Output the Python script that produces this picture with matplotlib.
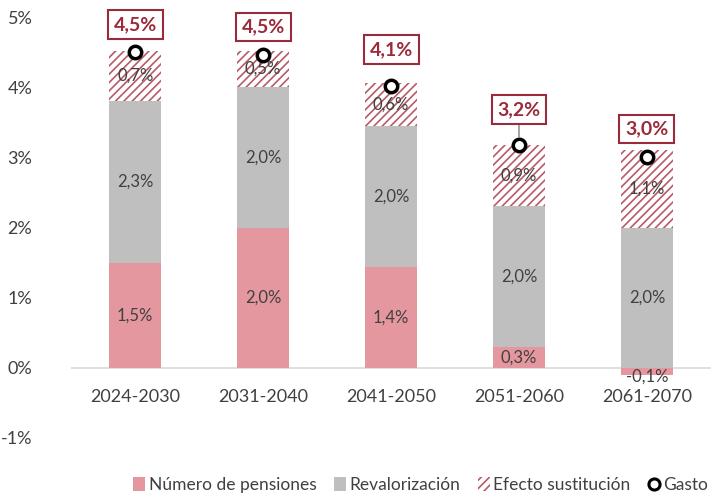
import numpy as np
import matplotlib.pyplot as plt
from matplotlib.patches import Patch
from matplotlib.lines import Line2D

plt.rcParams['font.family'] = ['Lato', 'DejaVu Sans']
plt.rcParams['hatch.linewidth'] = 1.2

periods = ['2024-2030', '2031-2040', '2041-2050', '2051-2060', '2061-2070']
num_pensiones = [1.5, 2.0, 1.44, 0.3, -0.1]
revalorizacion = [2.3, 2.0, 2.0, 2.0, 2.0]
efecto_sust = [0.72, 0.52, 0.62, 0.88, 1.1]
gasto = [4.5, 4.46, 4.02, 3.17, 3.01]

pink_labels = ['1,5%', '2,0%', '1,4%', '0,3%', '-0,1%']
gray_labels = ['2,3%', '2,0%', '2,0%', '2,0%', '2,0%']
hatch_labels = ['0,7%', '0,5%', '0,6%', '0,9%', '1,1%']
gasto_labels = ['4,5%', '4,5%', '4,1%', '3,2%', '3,0%']
box_offset = [20, 20, 26, 26, 20]  # points above the marker

pink = '#E597A0'
gray = '#BFBFBF'
red = '#9B2A3A'
txt = '#404040'

fig = plt.figure(figsize=(7.13, 5), dpi=100)
ax = fig.add_axes([0.1, 0.124, 0.897, 0.842])

x = np.arange(len(periods))
w = 0.41
num = np.array(num_pensiones)
rev = np.array(revalorizacion)
ef = np.array(efecto_sust)
rev_bottom = np.where(num > 0, num, 0)

ax.bar(x, num, w, color=pink, zorder=2)
ax.bar(x, rev, w, bottom=rev_bottom, color=gray, zorder=2)
ax.bar(x, ef, w, bottom=rev_bottom + rev, color='white', edgecolor='#B85A68',
       hatch='////', linewidth=0, zorder=2)
ax.scatter(x, gasto, s=80, facecolor='white', edgecolor='black', linewidth=2.5, zorder=4)

for i in range(len(x)):
    ax.text(x[i], num[i] / 2 if num[i] > 0 else num[i] - 0.02, pink_labels[i],
            ha='center', va='center', fontsize=12, color=txt, zorder=5)
    ax.text(x[i], rev_bottom[i] + rev[i] / 2, gray_labels[i],
            ha='center', va='center', fontsize=12, color=txt, zorder=5)
    ax.text(x[i], rev_bottom[i] + rev[i] + ef[i] / 2, hatch_labels[i],
            ha='center', va='center', fontsize=12, color=txt, zorder=3)
    ax.annotate(gasto_labels[i], (x[i], gasto[i]), xytext=(0, box_offset[i]),
                textcoords='offset points', ha='center', va='center',
                fontsize=14, fontweight='bold', color=red,
                bbox=dict(boxstyle='square,pad=0.3', fc='white', ec=red, lw=1.5),
                arrowprops=dict(arrowstyle='-', color='#808080', lw=1,
                                shrinkA=0, shrinkB=6) if i == 3 else None,
                zorder=6)

ax.set_ylim(-1, 5)
ax.set_xlim(-0.5, 4.5)
ax.set_yticks(np.arange(-1, 6))
ax.set_yticklabels([f'{v}%' for v in range(-1, 6)])
ax.set_xticks([])
for i, p in enumerate(periods):
    ax.text(x[i], -0.3, p, ha='center', va='top', fontsize=13, color=txt)
ax.axhline(0, color='#D9D9D9', lw=1.2, zorder=1)
for s in ax.spines.values():
    s.set_visible(False)
ax.tick_params(axis='y', length=0, labelsize=13, labelcolor=txt, pad=28)

handles = [
    Patch(facecolor=pink, label='Número de pensiones'),
    Patch(facecolor=gray, label='Revalorización'),
    Patch(facecolor='white', edgecolor='#B85A68', hatch='////', linewidth=0,
          label='Efecto sustitución'),
    Line2D([], [], marker='o', ls='', markerfacecolor='white', markeredgecolor='black',
           markeredgewidth=2.2, markersize=8, label='Gasto'),
]
fig.legend(handles=handles, loc='center', bbox_to_anchor=(0.59, 0.03), ncol=4,
           frameon=False, fontsize=12.5, handlelength=0.7, handleheight=0.9,
           handletextpad=0.2, columnspacing=1.0, labelcolor=txt)

fig.savefig('out.png', dpi=100)
